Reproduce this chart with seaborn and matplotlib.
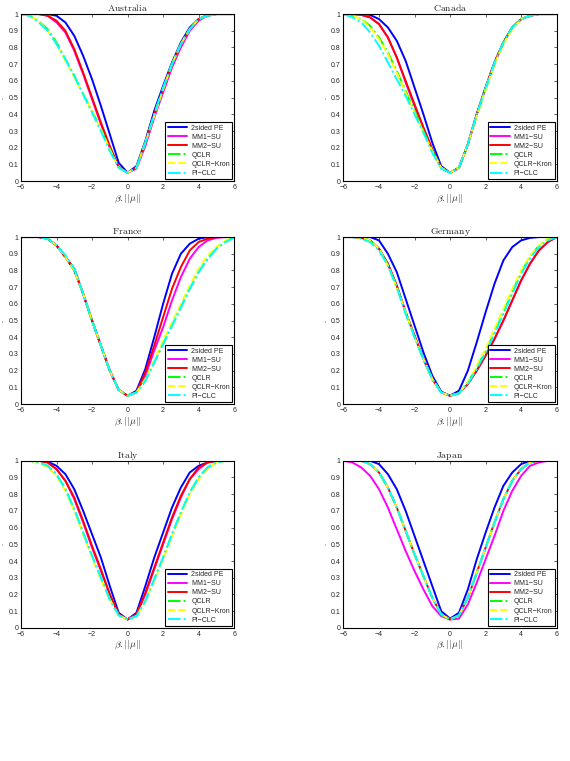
import numpy as np
import pandas as pd
import seaborn as sns
import matplotlib
matplotlib.use("Agg")
import matplotlib.pyplot as plt

# grid of beta values (-6 ... 6, step 0.5)
beta = [-6.0, -5.5, -5.0, -4.5, -4.0, -3.5, -3.0, -2.5, -2.0, -1.5, -1.0, -0.5, 0.0,
        0.5, 1.0, 1.5, 2.0, 2.5, 3.0, 3.5, 4.0, 4.5, 5.0, 5.5, 6.0]

series_names = ["2sided PE", "MM1\u2212SU", "MM2\u2212SU", "QCLR", "QCLR\u2212Kron", "PI\u2212CLC"]
countries = ["Australia", "Canada", "France", "Germany", "Italy", "Japan"]

# Australia
aus_pe = [1.0, 1.0, 1.0, 1.0, 0.99, 0.95, 0.87, 0.75, 0.61, 0.45, 0.28, 0.11, 0.05, 0.09, 0.24, 0.42, 0.57, 0.71, 0.83, 0.92, 0.97, 0.995, 1.0, 1.0, 1.0]
aus_mm1 = [1.0, 1.0, 1.0, 0.99, 0.95, 0.89, 0.78, 0.64, 0.49, 0.34, 0.20, 0.085, 0.05, 0.075, 0.21, 0.38, 0.53, 0.68, 0.80, 0.90, 0.96, 0.99, 1.0, 1.0, 1.0]
aus_mm2 = [1.0, 1.0, 1.0, 0.99, 0.96, 0.90, 0.79, 0.65, 0.50, 0.35, 0.21, 0.085, 0.05, 0.08, 0.23, 0.40, 0.55, 0.70, 0.82, 0.91, 0.97, 0.99, 1.0, 1.0, 1.0]
aus_qclr = [1.0, 0.99, 0.96, 0.91, 0.83, 0.73, 0.63, 0.52, 0.42, 0.31, 0.19, 0.08, 0.05, 0.08, 0.23, 0.40, 0.55, 0.70, 0.82, 0.91, 0.97, 0.99, 1.0, 1.0, 1.0]
aus_kron = [1.0, 0.99, 0.96, 0.90, 0.82, 0.72, 0.62, 0.52, 0.42, 0.31, 0.19, 0.08, 0.05, 0.08, 0.23, 0.39, 0.55, 0.70, 0.82, 0.91, 0.97, 0.99, 1.0, 1.0, 1.0]
aus_pi = [1.0, 0.99, 0.95, 0.90, 0.82, 0.73, 0.63, 0.52, 0.41, 0.30, 0.18, 0.08, 0.05, 0.08, 0.23, 0.40, 0.56, 0.70, 0.82, 0.91, 0.97, 0.99, 1.0, 1.0, 1.0]

# Canada
can_pe = [1.0, 1.0, 1.0, 0.995, 0.97, 0.92, 0.84, 0.72, 0.56, 0.40, 0.23, 0.09, 0.05, 0.08, 0.22, 0.40, 0.56, 0.71, 0.83, 0.92, 0.97, 0.99, 1.0, 1.0, 1.0]
can_mm1 = [1.0, 1.0, 0.995, 0.98, 0.94, 0.86, 0.74, 0.59, 0.45, 0.32, 0.19, 0.08, 0.05, 0.08, 0.22, 0.40, 0.56, 0.71, 0.83, 0.92, 0.97, 0.99, 1.0, 1.0, 1.0]
can_mm2 = [1.0, 1.0, 0.995, 0.98, 0.94, 0.86, 0.74, 0.60, 0.46, 0.32, 0.19, 0.08, 0.05, 0.08, 0.22, 0.40, 0.56, 0.71, 0.83, 0.92, 0.97, 0.99, 1.0, 1.0, 1.0]
can_qclr = [1.0, 0.99, 0.97, 0.93, 0.86, 0.77, 0.66, 0.54, 0.42, 0.30, 0.18, 0.08, 0.05, 0.08, 0.22, 0.39, 0.55, 0.70, 0.83, 0.92, 0.97, 0.99, 1.0, 1.0, 1.0]
can_kron = [1.0, 0.99, 0.97, 0.92, 0.85, 0.76, 0.65, 0.53, 0.41, 0.29, 0.18, 0.08, 0.05, 0.08, 0.22, 0.39, 0.55, 0.70, 0.82, 0.91, 0.97, 0.99, 1.0, 1.0, 1.0]
can_pi = [1.0, 0.98, 0.95, 0.89, 0.81, 0.71, 0.61, 0.51, 0.40, 0.29, 0.17, 0.075, 0.05, 0.08, 0.22, 0.40, 0.56, 0.71, 0.83, 0.92, 0.97, 0.99, 1.0, 1.0, 1.0]

# France
fra_pe = [1.0, 1.0, 1.0, 0.99, 0.95, 0.88, 0.80, 0.66, 0.50, 0.35, 0.20, 0.085, 0.05, 0.08, 0.21, 0.40, 0.60, 0.78, 0.90, 0.96, 0.99, 1.0, 1.0, 1.0, 1.0]
fra_mm1 = [1.0, 1.0, 1.0, 0.99, 0.95, 0.88, 0.81, 0.66, 0.50, 0.35, 0.20, 0.085, 0.05, 0.07, 0.17, 0.32, 0.46, 0.62, 0.76, 0.87, 0.94, 0.98, 0.995, 1.0, 1.0]
fra_mm2 = [1.0, 1.0, 1.0, 0.99, 0.95, 0.88, 0.81, 0.66, 0.50, 0.35, 0.20, 0.085, 0.05, 0.07, 0.19, 0.35, 0.52, 0.69, 0.82, 0.92, 0.97, 0.99, 1.0, 1.0, 1.0]
fra_qclr = [1.0, 1.0, 1.0, 0.99, 0.95, 0.89, 0.81, 0.66, 0.50, 0.35, 0.20, 0.085, 0.05, 0.07, 0.14, 0.25, 0.36, 0.47, 0.58, 0.69, 0.79, 0.87, 0.93, 0.97, 1.0]
fra_kron = [1.0, 1.0, 1.0, 0.99, 0.95, 0.88, 0.80, 0.66, 0.50, 0.35, 0.20, 0.085, 0.05, 0.07, 0.15, 0.26, 0.38, 0.49, 0.60, 0.71, 0.81, 0.89, 0.94, 0.98, 1.0]
fra_pi = [1.0, 1.0, 1.0, 0.99, 0.95, 0.89, 0.81, 0.66, 0.50, 0.35, 0.20, 0.085, 0.05, 0.07, 0.14, 0.25, 0.36, 0.47, 0.58, 0.69, 0.79, 0.87, 0.93, 0.97, 0.995]

# Germany
ger_pe = [1.0, 1.0, 1.0, 1.0, 0.98, 0.90, 0.79, 0.63, 0.47, 0.31, 0.17, 0.075, 0.05, 0.08, 0.20, 0.37, 0.55, 0.72, 0.86, 0.94, 0.98, 0.995, 1.0, 1.0, 1.0]
ger_mm1 = [1.0, 1.0, 0.995, 0.98, 0.93, 0.84, 0.71, 0.55, 0.41, 0.27, 0.15, 0.07, 0.05, 0.065, 0.12, 0.20, 0.29, 0.39, 0.50, 0.62, 0.74, 0.84, 0.92, 0.97, 1.0]
ger_mm2 = [1.0, 1.0, 0.995, 0.98, 0.93, 0.84, 0.71, 0.55, 0.41, 0.27, 0.15, 0.07, 0.05, 0.065, 0.12, 0.20, 0.29, 0.39, 0.50, 0.62, 0.74, 0.84, 0.92, 0.97, 1.0]
ger_qclr = [1.0, 1.0, 0.995, 0.98, 0.93, 0.83, 0.70, 0.55, 0.40, 0.27, 0.15, 0.07, 0.05, 0.065, 0.13, 0.22, 0.32, 0.43, 0.55, 0.67, 0.79, 0.88, 0.95, 0.99, 1.0]
ger_kron = [1.0, 1.0, 0.995, 0.98, 0.93, 0.83, 0.70, 0.55, 0.40, 0.27, 0.15, 0.07, 0.05, 0.065, 0.13, 0.23, 0.33, 0.45, 0.57, 0.69, 0.80, 0.89, 0.95, 0.99, 1.0]
ger_pi = [1.0, 1.0, 0.99, 0.97, 0.92, 0.83, 0.70, 0.54, 0.40, 0.27, 0.15, 0.07, 0.05, 0.065, 0.12, 0.21, 0.31, 0.42, 0.54, 0.66, 0.78, 0.87, 0.94, 0.98, 1.0]

# Italy
ita_pe = [1.0, 1.0, 1.0, 0.995, 0.97, 0.92, 0.83, 0.70, 0.56, 0.42, 0.25, 0.09, 0.05, 0.09, 0.25, 0.42, 0.57, 0.72, 0.84, 0.93, 0.97, 0.99, 1.0, 1.0, 1.0]
ita_mm1 = [1.0, 1.0, 1.0, 0.99, 0.95, 0.88, 0.77, 0.63, 0.48, 0.34, 0.20, 0.08, 0.05, 0.08, 0.20, 0.35, 0.50, 0.65, 0.78, 0.89, 0.95, 0.99, 1.0, 1.0, 1.0]
ita_mm2 = [1.0, 1.0, 1.0, 0.99, 0.95, 0.88, 0.78, 0.64, 0.49, 0.35, 0.20, 0.08, 0.05, 0.08, 0.21, 0.36, 0.51, 0.66, 0.79, 0.89, 0.96, 0.99, 1.0, 1.0, 1.0]
ita_qclr = [1.0, 1.0, 0.99, 0.97, 0.92, 0.83, 0.71, 0.57, 0.43, 0.30, 0.17, 0.075, 0.05, 0.07, 0.16, 0.29, 0.42, 0.56, 0.69, 0.81, 0.90, 0.96, 0.99, 1.0, 1.0]
ita_kron = [1.0, 1.0, 0.99, 0.96, 0.91, 0.82, 0.70, 0.56, 0.42, 0.29, 0.17, 0.075, 0.05, 0.07, 0.16, 0.28, 0.41, 0.55, 0.68, 0.80, 0.89, 0.95, 0.99, 1.0, 1.0]
ita_pi = [1.0, 1.0, 0.99, 0.97, 0.92, 0.83, 0.71, 0.57, 0.43, 0.30, 0.17, 0.075, 0.05, 0.07, 0.16, 0.29, 0.42, 0.56, 0.69, 0.81, 0.90, 0.96, 0.99, 1.0, 1.0]

# Japan
jpn_pe = [1.0, 1.0, 1.0, 1.0, 0.98, 0.92, 0.83, 0.70, 0.55, 0.40, 0.25, 0.10, 0.055, 0.09, 0.23, 0.41, 0.57, 0.72, 0.85, 0.93, 0.98, 1.0, 1.0, 1.0, 1.0]
jpn_mm1 = [1.0, 0.99, 0.96, 0.91, 0.83, 0.72, 0.59, 0.46, 0.34, 0.23, 0.13, 0.07, 0.05, 0.055, 0.14, 0.27, 0.41, 0.55, 0.70, 0.82, 0.91, 0.97, 0.99, 1.0, 1.0]
jpn_mm2 = [1.0, 1.0, 1.0, 0.98, 0.93, 0.84, 0.72, 0.58, 0.44, 0.31, 0.18, 0.08, 0.05, 0.075, 0.18, 0.33, 0.48, 0.63, 0.77, 0.88, 0.95, 0.99, 1.0, 1.0, 1.0]
jpn_qclr = [1.0, 1.0, 1.0, 0.98, 0.93, 0.84, 0.72, 0.58, 0.44, 0.31, 0.18, 0.08, 0.05, 0.075, 0.18, 0.33, 0.48, 0.63, 0.77, 0.88, 0.95, 0.99, 1.0, 1.0, 1.0]
jpn_kron = [1.0, 1.0, 1.0, 0.98, 0.93, 0.84, 0.72, 0.58, 0.44, 0.31, 0.18, 0.08, 0.05, 0.075, 0.18, 0.33, 0.48, 0.63, 0.77, 0.88, 0.95, 0.99, 1.0, 1.0, 1.0]
jpn_pi = [1.0, 1.0, 1.0, 0.98, 0.93, 0.84, 0.72, 0.58, 0.44, 0.31, 0.18, 0.08, 0.05, 0.075, 0.18, 0.33, 0.48, 0.63, 0.77, 0.88, 0.95, 0.99, 1.0, 1.0, 1.0]

panel_data = {
    "Australia": [aus_pe, aus_mm1, aus_mm2, aus_qclr, aus_kron, aus_pi],
    "Canada": [can_pe, can_mm1, can_mm2, can_qclr, can_kron, can_pi],
    "France": [fra_pe, fra_mm1, fra_mm2, fra_qclr, fra_kron, fra_pi],
    "Germany": [ger_pe, ger_mm1, ger_mm2, ger_qclr, ger_kron, ger_pi],
    "Italy": [ita_pe, ita_mm1, ita_mm2, ita_qclr, ita_kron, ita_pi],
    "Japan": [jpn_pe, jpn_mm1, jpn_mm2, jpn_qclr, jpn_kron, jpn_pi],
}

# matlab-ish line styles
colors = ["#0000ff", "#ff00ff", "#ff0000", "#00ff00", "#ffff00", "#00ffff"]
styles = ["-", "-", "-", "-.", "--", "-."]

sns.set_style("white")
plt.rcParams["font.family"] = ["Liberation Sans", "DejaVu Sans"]
plt.rcParams["mathtext.fontset"] = "cm"

fig = plt.figure(figsize=(5.70, 7.61), dpi=100)

# axes rectangles in figure fractions
col_left = [0.0368, 0.6026]
row_bottom = [0.762, 0.469, 0.175]
ax_w, ax_h = 0.374, 0.2195

for i, country in enumerate(countries):
    r, c = divmod(i, 2)
    ax = fig.add_axes([col_left[c], row_bottom[r], ax_w, ax_h])
    for name, vals, col, ls in zip(series_names, panel_data[country], colors, styles):
        df = pd.DataFrame({"beta": beta, "power": vals})
        sns.lineplot(data=df, x="beta", y="power", ax=ax, color=col,
                     linestyle=ls, linewidth=1.4, label=name)
    ax.set_xlim(-6, 6)
    ax.set_ylim(0, 1)
    ax.set_xticks([-6, -4, -2, 0, 2, 4, 6])
    ax.set_xticklabels(["\u22126", "\u22124", "\u22122", "0", "2", "4", "6"])
    ax.set_yticks(np.linspace(0, 1, 11))
    ax.set_yticklabels(["0", "0.1", "0.2", "0.3", "0.4", "0.5", "0.6", "0.7", "0.8", "0.9", "1"])
    ax.tick_params(direction="in", length=2, width=0.5, labelsize=5,
                   top=True, right=True, pad=2)
    for sp in ax.spines.values():
        sp.set_color("black")
        sp.set_linewidth(0.8)
    ax.set_title(r"$\mathrm{" + country + "}$", fontsize=7, pad=2)
    ax.set_xlabel(r"$\beta.||\mu||$", fontsize=7, labelpad=1)
    ax.set_ylabel("-", fontsize=4)
    ax.yaxis.set_label_coords(-0.07, 0.5)
    leg = ax.legend(loc="lower right", fontsize=5, frameon=True, fancybox=False,
                    framealpha=1, edgecolor="black", handlelength=2.8,
                    handletextpad=0.6, labelspacing=0.3, borderaxespad=0.25,
                    borderpad=0.35)
    leg.get_frame().set_linewidth(0.8)

plt.savefig("out.png", dpi=100)
